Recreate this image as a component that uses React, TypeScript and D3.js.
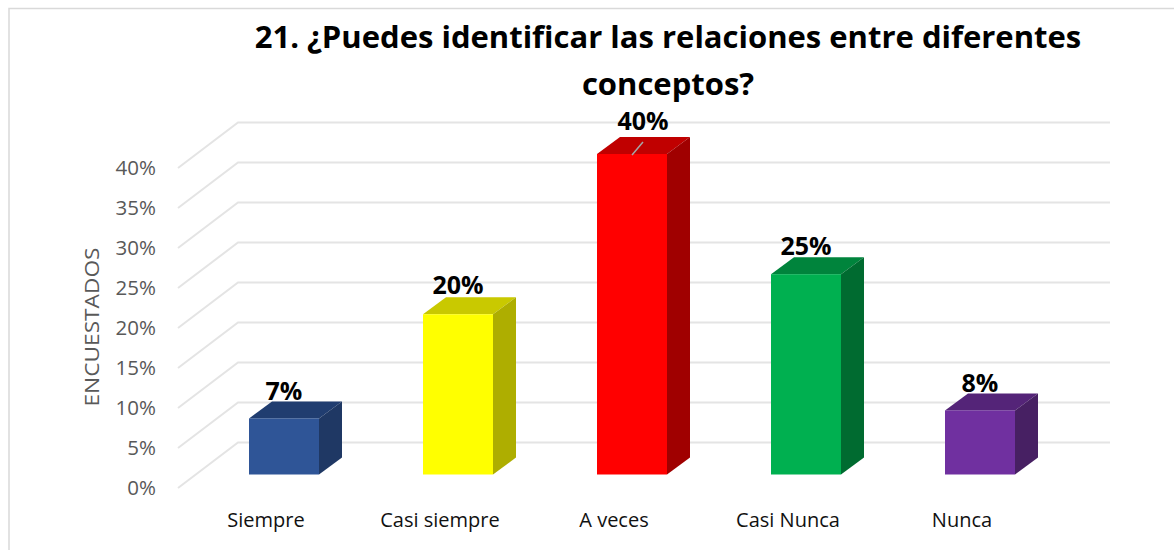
import React from "react";
import * as d3 from "d3";

const categories = ["Siempre", "Casi siempre", "A veces", "Casi Nunca", "Nunca"];
const values = [7, 20, 40, 25, 8];
const frontColors = ["#2F5597", "#FFFF00", "#FF0000", "#00B050", "#7030A0"];
const topColors = ["#203D70", "#C9C900", "#C00000", "#00843C", "#542478"];
const sideColors = ["#1F3864", "#AEAE00", "#A00000", "#006B30", "#472063"];
const ticks = [0, 5, 10, 15, 20, 25, 30, 35, 40];
const titleLines = ["21. ¿Puedes identificar las relaciones entre diferentes", "conceptos?"];
const axisTitle = "ENCUESTADOS";
const labelShiftX = [0, 0, 11, 0, 0];
const labelShiftY = [-1, -3, -7, -2, -1];

const FONT = "'Open Sans', 'Noto Sans', sans-serif";

export default function App() {
  const y = d3.scaleLinear().domain([0, 40]).range([488, 168]);
  const barY = d3.scaleLinear().domain([0, 40]).range([474.5, 154]);
  const x = d3.scalePoint<string>().domain(categories).range([249, 945]);
  const bw = 70;
  const dx = 23;
  const dy = -17;
  const line = d3.line();
  const pct = (v: number) => `${v}%`;
  const leaderTop = barY(40);
  const leaderX = (x("A veces") ?? 0) + 35;
  return (
    <svg width={1174} height={550} style={{ position: "fixed", left: 0, top: 0, background: "#fff" }}>
      <path d="M9 550V8.5H1174" fill="none" stroke="#D9D9D9" strokeWidth={1.5} />
      <g fill="none" stroke="#E4E4E4" strokeWidth={2}>
        {ticks.map((t) => (
          <path key={t} d={line([[178, y(t)], [238, y(t) - 45.5], [1110, y(t) - 45.5]]) ?? ""} />
        ))}
      </g>
      {ticks.map((t) => (
        <text key={t} x={156} y={y(t) + 7} textAnchor="end" fontFamily={FONT} fontSize={20.5} fill="#595959">{pct(t)}</text>
      ))}
      <text transform="translate(99 327) rotate(-90)" textAnchor="middle" fontFamily={FONT} fontSize={20} fill="#595959" textLength={159} lengthAdjust="spacingAndGlyphs">{axisTitle}</text>
      {categories.map((c, i) => {
        const x0 = x(c) ?? 0;
        const yb = barY(0);
        const yt = barY(values[i]);
        return (
          <g key={c}>
            <path d={line([[x0, yt], [x0 + dx, yt + dy], [x0 + bw + dx, yt + dy], [x0 + bw, yt]])! + "Z"} fill={topColors[i]} />
            <path d={line([[x0 + bw, yt], [x0 + bw + dx, yt + dy], [x0 + bw + dx, yb + dy], [x0 + bw, yb]])! + "Z"} fill={sideColors[i]} />
            <rect x={x0} y={yt} width={bw} height={yb - yt} fill={frontColors[i]} />
          </g>
        );
      })}
      <path d={line([[leaderX, leaderTop + 1], [leaderX + 11, leaderTop - 12]]) ?? ""} stroke="#A6A6A6" strokeWidth={1.5} fill="none" />
      {categories.map((c) => (
        <text key={c} x={(x(c) ?? 0) + 17} y={527} textAnchor="middle" fontFamily={FONT} fontSize={20} fill="#111">{c}</text>
      ))}
      {categories.map((c, i) => (
        <text key={c} x={(x(c) ?? 0) + bw / 2 + labelShiftX[i]} y={barY(values[i]) + dy + labelShiftY[i]} textAnchor="middle" fontFamily={FONT} fontSize={25} fontWeight={700} fill="#000">{pct(values[i])}</text>
      ))}
      {titleLines.map((l, i) => (
        <text key={l} x={668} y={48 + i * 47} textAnchor="middle" fontFamily={FONT} fontSize={31} fontWeight={700} fill="#000">{l}</text>
      ))}
    </svg>
  );
}
